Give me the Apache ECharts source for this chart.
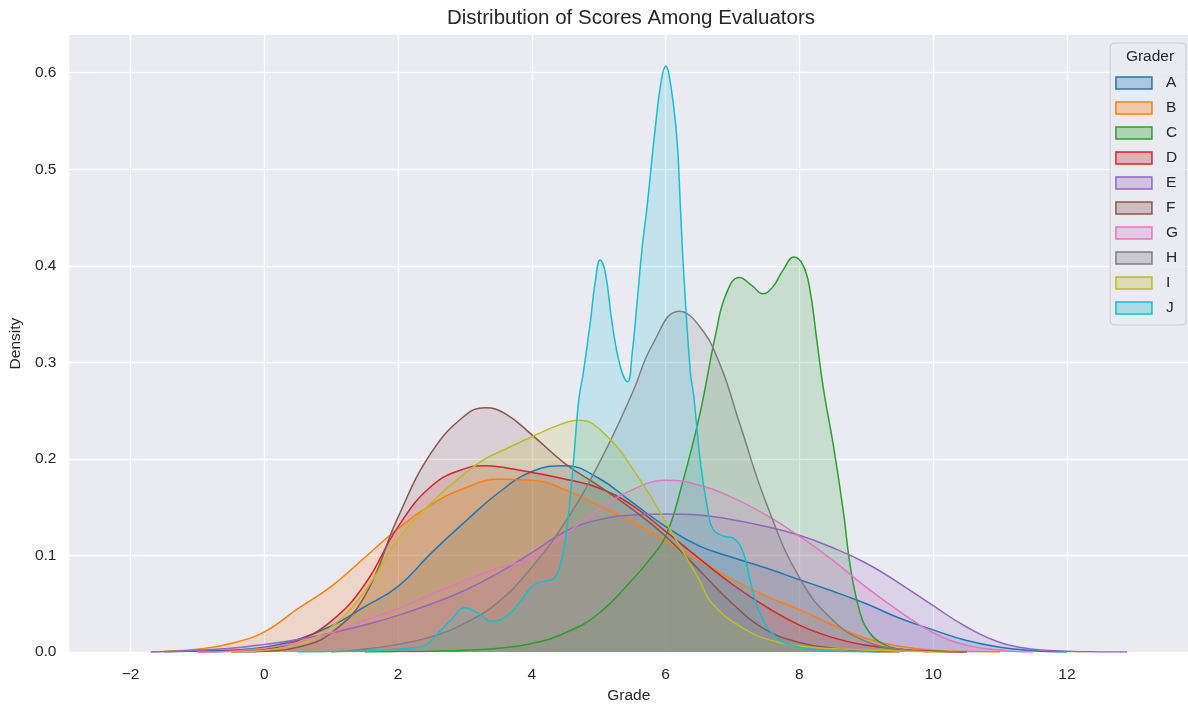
<!DOCTYPE html>
<html><head><meta charset="utf-8">
<script src="https://cdn.jsdelivr.net/npm/echarts@6/dist/echarts.min.js"></script>
<style>html,body{margin:0;padding:0;background:#fff}#c{width:1188px;height:709px}</style>
</head><body><div id="c"></div>
<script>
const graders = ['A','B','C','D','E','F','G','H','I','J'];
const colors = ['#1f77b4','#ff7f0e','#2ca02c','#d62728','#9467bd','#8c564b','#e377c2','#7f7f7f','#bcbd22','#17becf'];
const xTicks = [-2,0,2,4,6,8,10,12];
const yTicks = [0,0.1,0.2,0.3,0.4,0.5,0.6];

const aX = [-1.5,-1,-0.5,0,0.5,1,1.5,2,2.5,3,3.5,4,4.5,5,5.5,6,6.5,7,7.5,8,8.5,9,9.5,10,10.5,11,11.5,12];
const aY = [0,0.001,0.002,0.005,0.013,0.027,0.047,0.068,0.103,0.135,0.165,0.187,0.193,0.18,0.155,0.13,0.11,0.098,0.087,0.075,0.063,0.05,0.035,0.023,0.012,0.005,0.0015,0];

const bX = [-1.7,-1.5,-1,-0.5,0,0.5,1,1.5,2,2.5,3,3.5,4,4.5,5,5.5,6,6.5,7,7.5,8,8.5,9,9.5,10,10.5,11];
const bY = [0,0.0007,0.003,0.009,0.021,0.045,0.068,0.098,0.128,0.153,0.17,0.179,0.178,0.168,0.152,0.135,0.115,0.095,0.075,0.058,0.044,0.028,0.014,0.006,0.002,0.0005,0];

const cX = [1.5,2,2.5,3,3.5,4,4.5,5,5.5,5.75,6,6.25,6.5,6.75,6.9,7.1,7.3,7.45,7.6,7.75,7.92,8.05,8.15,8.26,8.36,8.51,8.66,8.76,8.91,9.05,9.21,9.5,10,10.5];
const cY = [0,0.0005,0.001,0.002,0.004,0.009,0.02,0.04,0.075,0.095,0.12,0.175,0.243,0.33,0.37,0.388,0.379,0.371,0.378,0.395,0.409,0.401,0.378,0.323,0.272,0.213,0.144,0.089,0.04,0.02,0.01,0.003,0.0005,0];

const dX = [-1,-0.5,0,0.5,1,1.5,2,2.5,3,3.3,3.6,4,4.5,5,5.5,6,6.5,7,7.5,8,8.5,9,9.5,10,10.5];
const dY = [0,0.001,0.003,0.012,0.032,0.07,0.13,0.172,0.19,0.193,0.191,0.186,0.179,0.17,0.152,0.125,0.097,0.07,0.047,0.028,0.015,0.007,0.003,0.001,0];

const eX = [-1.7,-1.5,-1,-0.5,0,0.5,1,1.5,2,2.5,3,3.5,4,4.5,5,5.5,6,6.5,7,7.5,8,8.5,9,9.5,10,10.5,11,11.5,12,12.5,12.9];
const eY = [0,0.0005,0.002,0.004,0.008,0.013,0.02,0.028,0.038,0.05,0.064,0.082,0.103,0.125,0.137,0.142,0.143,0.142,0.137,0.13,0.121,0.108,0.092,0.071,0.048,0.026,0.01,0.003,0.001,0.0002,0];

const fX = [-0.5,0,0.5,1,1.5,2,2.5,3,3.3,3.6,4,4.5,5,5.5,6,6.5,7,7.5,8,8.5,9,9.5];
const fY = [0,0.001,0.005,0.02,0.058,0.14,0.207,0.245,0.253,0.247,0.225,0.195,0.172,0.148,0.12,0.085,0.05,0.023,0.01,0.004,0.001,0];

const gX = [-1,-0.5,0,0.5,1,1.5,2,2.5,3,3.5,4,4.5,5,5.5,6,6.5,7,7.5,8,8.5,9,9.5,10,10.5,11,11.5];
const gY = [0,0.001,0.004,0.01,0.02,0.033,0.045,0.06,0.074,0.087,0.098,0.122,0.148,0.168,0.178,0.173,0.16,0.142,0.12,0.095,0.067,0.042,0.02,0.007,0.002,0];

const hX = [1,1.5,2,2.5,3,3.5,4,4.5,5,5.5,5.8,6.2,6.5,6.8,7.1,7.5,8,8.5,9,9.5,10,10.5];
const hY = [0,0.003,0.008,0.016,0.03,0.052,0.088,0.135,0.195,0.268,0.318,0.353,0.338,0.3,0.238,0.155,0.077,0.033,0.011,0.003,0.0005,0];

const iX = [-0.5,0,0.5,1,1.5,2,2.5,3,3.3,3.6,4,4.4,4.7,5.1,5.6,6.1,6.5,6.7,7.2,7.7,8.2,8.7,9.5,10];
const iY = [0,0.002,0.008,0.026,0.063,0.117,0.155,0.185,0.2,0.21,0.223,0.235,0.24,0.225,0.18,0.123,0.075,0.05,0.023,0.01,0.005,0.003,0.001,0];

const jX = [0.5,1,1.5,2,2.4,2.6,2.8,3.0,3.2,3.4,3.6,3.8,4.0,4.15,4.3,4.42,4.52,4.62,4.7,4.77,4.87,4.95,5.02,5.1,5.2,5.32,5.43,5.5,5.57,5.65,5.72,5.84,5.93,6.0,6.08,6.17,6.22,6.27,6.37,6.42,6.52,6.62,6.71,6.87,7.01,7.16,7.26,7.41,7.66,8.0,8.3,8.7,9.2];
const jY = [0,0.0005,0.001,0.003,0.007,0.02,0.034,0.046,0.04,0.032,0.036,0.05,0.068,0.073,0.075,0.089,0.127,0.196,0.261,0.29,0.34,0.385,0.406,0.392,0.34,0.296,0.28,0.31,0.36,0.42,0.46,0.54,0.59,0.607,0.585,0.53,0.461,0.392,0.289,0.265,0.196,0.151,0.127,0.12,0.118,0.103,0.075,0.04,0.015,0.005,0.002,0.0005,0];

const curves = [[aX,aY],[bX,bY],[cX,cY],[dX,dY],[eX,eY],[fX,fY],[gX,gY],[hX,hY],[iX,iY],[jX,jY]];

function rgba(hex, a) {
  const n = parseInt(hex.slice(1), 16);
  return 'rgba(' + ((n >> 16) & 255) + ',' + ((n >> 8) & 255) + ',' + (n & 255) + ',' + a + ')';
}
const FONT = '"Liberation Sans", Arial, sans-serif';
const TXT = '#262626';

const chart = echarts.init(document.getElementById('c'), null, {renderer: 'canvas'});
const series = graders.map((g, i) => ({
  name: g,
  type: 'line',
  data: curves[i][0].map((x, k) => [x, curves[i][1][k]]),
  smooth: 0.45,
  showSymbol: false,
  symbol: 'none',
  itemStyle: {color: colors[i]},
  lineStyle: {color: colors[i], width: 1.5},
  areaStyle: {color: rgba(colors[i], 0.25), origin: 'start'},
  emphasis: {disabled: true},
  z: 2
}));

chart.setOption({
  animation: false,
  backgroundColor: '#ffffff',
  textStyle: {fontFamily: FONT},
  grid: {left: 69, right: 0, top: 35, bottom: 56, show: true, backgroundColor: '#eaeaf2', borderWidth: 0},
  xAxis: {
    type: 'value', min: -2.915, max: 13.81,
    name: 'Grade', nameLocation: 'middle', nameGap: 31,
    nameTextStyle: {fontSize: 15.5, color: TXT, fontFamily: FONT},
    axisLine: {show: false}, axisTick: {show: false, customValues: xTicks},
    axisLabel: {customValues: xTicks, fontSize: 15.5, color: TXT, margin: 15, fontFamily: FONT,
      formatter: v => (v < 0 ? '\u2212' + Math.abs(v) : String(v))},
    splitLine: {show: true, lineStyle: {color: '#ffffff', width: 1.3}}
  },
  yAxis: {
    type: 'value', min: 0, max: 0.639,
    name: 'Density', nameLocation: 'middle', nameGap: 42, nameRotate: 90,
    nameTextStyle: {fontSize: 15.5, color: TXT, fontFamily: FONT},
    axisLine: {show: false}, axisTick: {show: false, customValues: yTicks},
    axisLabel: {customValues: yTicks, fontSize: 15.5, color: TXT, margin: 13, fontFamily: FONT,
      formatter: v => v.toFixed(1)},
    splitLine: {show: true, lineStyle: {color: '#ffffff', width: 1.3}}
  },
  legend: {
    data: graders.map((g, i) => ({name: g, itemStyle: {color: rgba(colors[i], 0.3), borderColor: colors[i], borderWidth: 1.5}})),
    orient: 'vertical', right: 2, top: 43,
    padding: [32, 8, 9, 5],
    icon: 'rect', itemWidth: 36, itemHeight: 12, itemGap: 9,
    selectedMode: false,
    textStyle: {fontSize: 15.5, color: TXT, fontFamily: FONT, padding: [0, 0, 0, 9], lineHeight: 15},
    backgroundColor: 'rgba(234,234,242,0.85)', borderColor: '#cccccc', borderWidth: 1, borderRadius: 4,
    z: 10
  },
  graphic: [
    {type: 'text', x: 631, y: 18, z: 10,
      style: {text: 'Distribution of Scores Among Evaluators', fill: TXT, font: '20.5px ' + FONT, align: 'center', verticalAlign: 'middle'}},
    {type: 'text', x: 1150, y: 57, z: 20,
      style: {text: 'Grader', fill: TXT, font: '15.5px ' + FONT, align: 'center', verticalAlign: 'middle'}}
  ],
  series: series
});
</script>
</body></html>
